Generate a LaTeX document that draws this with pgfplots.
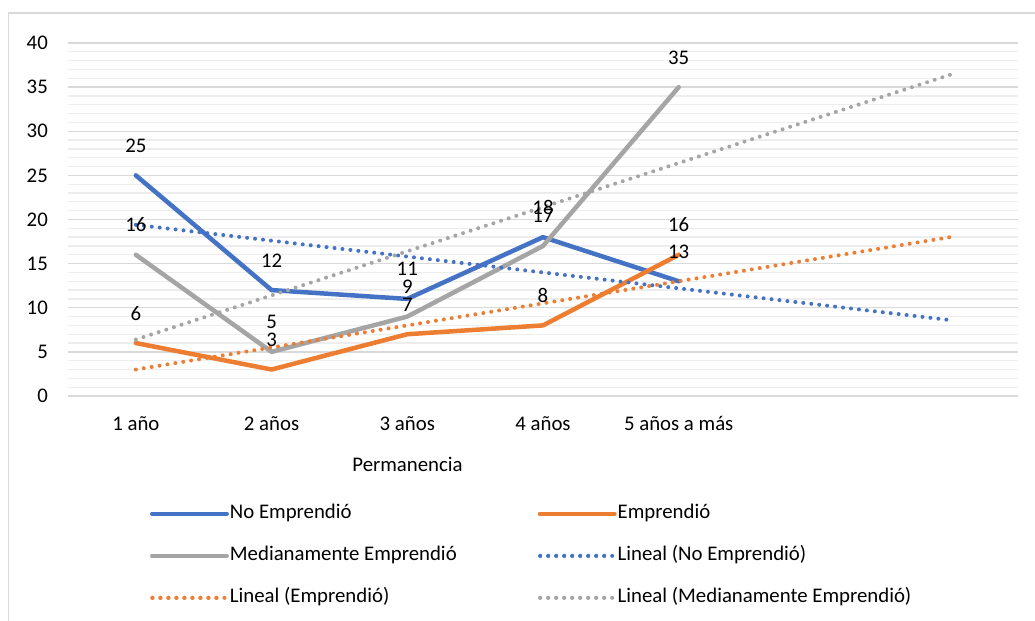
\documentclass[border=0pt]{standalone}
\usepackage{fontspec}
\setmainfont{Carlito}
\usepackage{pgfplots}
\pgfplotsset{compat=1.18}
\definecolor{cblue}{HTML}{4472C4}
\definecolor{corange}{HTML}{ED7D31}
\definecolor{cgray}{HTML}{A5A5A5}
\definecolor{gmaj}{HTML}{D9D9D9}
\definecolor{gmin}{HTML}{EDEDED}
\newcommand{\F}{\fontsize{20.8bp}{25bp}\selectfont}
\begin{document}
\begin{tikzpicture}
\useasboundingbox (0,0) rectangle (1035bp,621bp);
\draw[gmaj, line width=1.2bp] (8.5bp,-20bp) -- (8.5bp,608bp) -- (1060bp,608bp);
\begin{axis}[
  at={(68bp,225bp)}, anchor=south west,
  scale only axis, width=950bp, height=353bp,
  xmin=0.5, xmax=7.5, ymin=0, ymax=40,
  xtick={1,2,3,4,5},
  xticklabels={1 año, 2 años, 3 años, 4 años, 5 años a más},
  ytick={0,5,...,40}, minor y tick num=4,
  ymajorgrids, yminorgrids,
  major grid style={gmaj, line width=1.3bp},
  minor grid style={gmin, line width=1.3bp},
  axis line style={draw=none},
  major tick length=0pt, minor tick length=0pt,
  tick style={draw=none},
  /pgf/number format/assume math mode=true,
  yticklabel style={font=\F, anchor=east, inner sep=0pt, xshift=-20bp, text=black},
  xticklabel style={font=\F, anchor=base, inner sep=0pt, yshift=-34bp, text=black},
  xlabel={Permanencia},
  xlabel style={font=\F, at={(axis description cs:0.3574,-0.2150)}, anchor=base, inner sep=0pt},
  every node near coord/.append style={font=\F, anchor=base, inner sep=0pt, yshift=23bp, text=black},
  legend columns=2,
  legend cell align=left,
  legend style={at={(axis description cs:0.0863,-0.305)}, anchor=north west, draw=none, fill=none,
    inner sep=0pt, font=\F,
    nodes={inner sep=0pt, text height=15bp, text depth=5bp, anchor=west},
    /tikz/every odd column/.append style={column sep=1bp},
    row sep=22bp},
  legend image code/.code={\draw[#1] (0bp,0bp) -- (64.5bp,0bp); \path (0bp,0bp) -- (74.25bp,0bp);},
]
\addplot[cblue, line width=4.5bp, line join=round, line cap=round, nodes near coords]
  coordinates {(1,25)(2,12)(3,11)(4,18)(5,13)};
\addlegendentry{\makebox[308bp][l]{No Emprendió}}
\addplot[corange, line width=4.5bp, line join=round, line cap=round, nodes near coords]
  coordinates {(1,6)(2,3)(3,7)(4,8)(5,16)};
\addlegendentry{Emprendió}
\addplot[cgray, line width=4.5bp, line join=round, line cap=round, nodes near coords]
  coordinates {(1,16)(2,5)(3,9)(4,17)(5,35)};
\addlegendentry{\makebox[308bp][l]{Medianamente Emprendió}}
\addplot[cblue, line width=4bp, line cap=round, dash pattern=on 0bp off 8bp]
  coordinates {(1,19.4)(7,8.6)};
\addlegendentry{Lineal (No Emprendió)}
\addplot[corange, line width=4bp, line cap=round, dash pattern=on 0bp off 8bp]
  coordinates {(1,3)(7,18)};
\addlegendentry{\makebox[308bp][l]{Lineal (Emprendió)}}
\addplot[cgray, line width=4bp, line cap=round, dash pattern=on 0bp off 8bp]
  coordinates {(1,6.4)(7,36.4)};
\addlegendentry{Lineal (Medianamente Emprendió)}
\end{axis}
\end{tikzpicture}
\end{document}
